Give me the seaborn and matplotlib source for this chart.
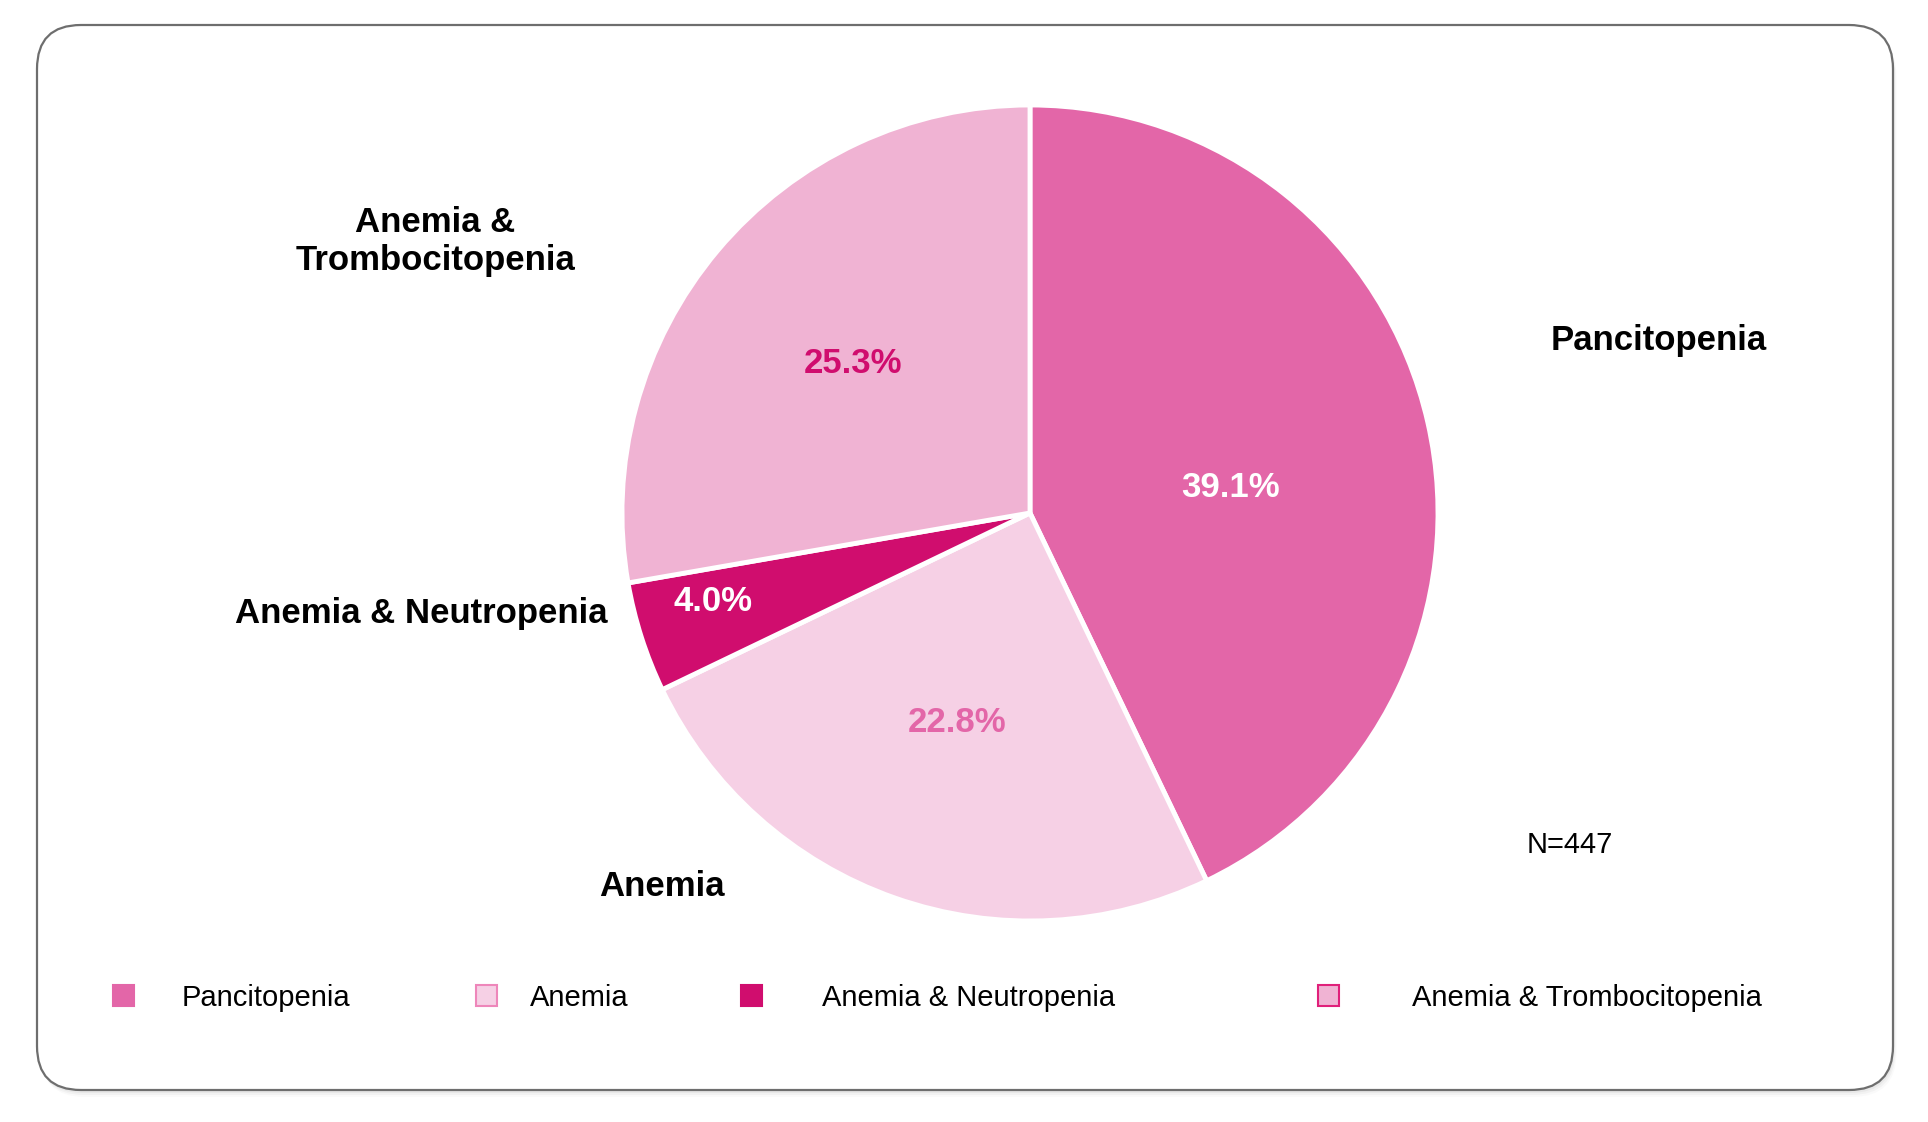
import matplotlib
matplotlib.use("Agg")
import matplotlib.pyplot as plt
from matplotlib.patches import FancyBboxPatch, Patch
import seaborn as sns

# Données
categories = ["Pancitopenia", "Anemia", "Anemia & Neutropenia", "Anemia & Trombocitopenia"]
percentages = [39.1, 22.8, 4.0, 25.3]
slice_colors = ["#E366A8", "#F6D0E5", "#D00D6E", "#F0B3D3"]
pct_colors = ["white", "#E366A8", "white", "#D00D6E"]
legend_edges = ["#E366A8", "#EE86BA", "#D00D6E", "#E0207A"]
sample_note = "N=447"

sns.set_theme(style="white")
plt.rcParams["font.family"] = ["Liberation Sans", "DejaVu Sans"]
plt.rcParams["text.color"] = "black"
plt.rcParams["legend.labelcolor"] = "black"

W, H = 1928, 1122
fig = plt.figure(figsize=(W / 100, H / 100), dpi=100)
fig.patch.set_facecolor("white")

# Fond : carte arrondie avec ombre légère
bg = fig.add_axes([0, 0, 1, 1], zorder=0)
bg.set_xlim(0, W)
bg.set_ylim(H, 0)
bg.axis("off")
card = dict(boxstyle="round,pad=0,rounding_size=44")
for k, a in [(7, 0.02), (5, 0.03), (3, 0.04)]:
    bg.add_patch(FancyBboxPatch((37 + k * 0.5, 25 + k), 1856, 1065, facecolor="black",
                                edgecolor="none", alpha=a, **card))
bg.add_patch(FancyBboxPatch((37, 25), 1856, 1065, facecolor="white",
                            edgecolor="#6E6E6E", linewidth=1.6, **card))

# Camembert
cx, cy, R, pad = 1030, 513, 408, 1.05
half = R * pad
ax = fig.add_axes([(cx - half) / W, 1 - (cy + half) / H, 2 * half / W, 2 * half / H], zorder=1)
ax.pie(percentages, colors=slice_colors, startangle=90, counterclock=False,
       wedgeprops=dict(edgecolor="white", linewidth=3.5))
ax.set_xlim(-pad, pad)
ax.set_ylim(-pad, pad)
ax.set_aspect("equal")
ax.axis("off")

# Étiquettes des catégories (en unités du rayon, ligne de base de la dernière ligne)
label_pos = [(1.540, 0.400), (-0.902, -0.939), (-1.492, -0.270), (-1.457, 0.595)]
for cat, (x, y) in zip(categories, label_pos):
    ax.text(x, y, cat.replace("& Tromb", "&\nTromb"), ha="center", va="baseline",
            fontsize=25, fontweight="bold", color="black", linespacing=1.2,
            multialignment="center")

# Pourcentages
pct_pos = [(0.491, 0.039), (-0.179, -0.536), (-0.776, -0.241), (-0.435, 0.344)]
for p, c, (x, y) in zip(percentages, pct_colors, pct_pos):
    ax.text(x, y, f"{p:.1f}%", ha="center", va="baseline", fontsize=25,
            fontweight="bold", color=c)

ax.text(1.216, -0.833, sample_note, ha="left", va="baseline", fontsize=21, color="black")

# Légende
leg_x = [113, 476, 741, 1318]
leg_pad = [1.64, 1.13, 2.05, 2.5]
for cat, fc, ec, x, tp in zip(categories, slice_colors, legend_edges, leg_x, leg_pad):
    h = Patch(facecolor=fc, edgecolor=ec, linewidth=1.5)
    fig.legend([h], [cat], loc="center left", bbox_to_anchor=(x / W, 1 - 998 / H),
               frameon=False, fontsize=21, handlelength=0.72, handleheight=0.72,
               handletextpad=tp, borderpad=0, borderaxespad=0, labelcolor="black")

fig.savefig("out.png", dpi=100, facecolor="white")
